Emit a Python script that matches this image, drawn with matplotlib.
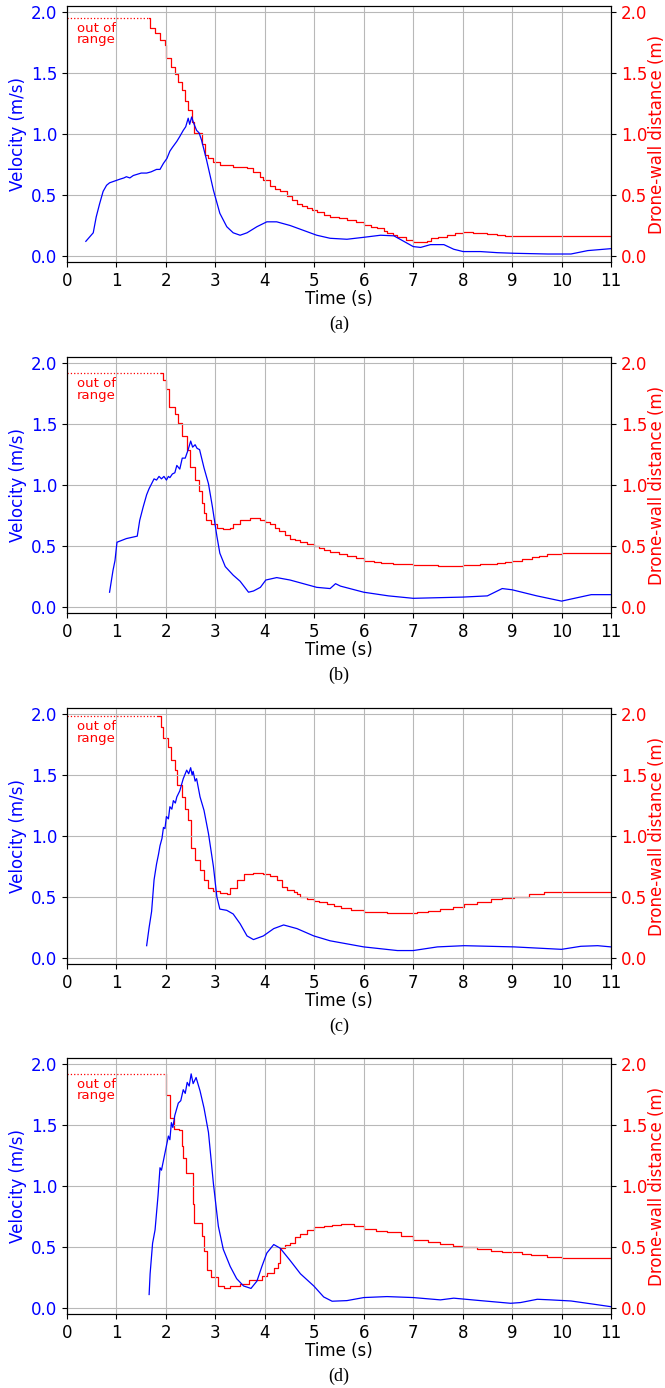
import numpy as np
import matplotlib
matplotlib.use("Agg")
from matplotlib import pyplot as plt

# velocity (m/s) and drone-wall distance (m), panels a-d
va_t = [0.38, 0.53, 0.59, 0.66, 0.73, 0.80, 0.86, 0.93, 1.0, 1.07, 1.15, 1.2, 1.27, 1.34, 1.42, 1.5, 1.61, 1.7, 1.81, 1.88, 1.95,
        2.02, 2.08, 2.13, 2.22, 2.28, 2.35, 2.4, 2.45, 2.48, 2.52, 2.56, 2.62, 2.67, 2.72, 2.82, 2.96, 3.09, 3.23, 3.36,
        3.5, 3.64, 3.84, 4.04, 4.24, 4.51, 4.78, 5.05, 5.32, 5.66, 6.0, 6.34, 6.61, 6.81, 7.0, 7.15, 7.35, 7.62,
        7.82, 8.01, 8.36, 8.7, 9.04, 9.72, 10.19, 10.53, 11.0]
va_v = [0.12, 0.19, 0.32, 0.43, 0.53, 0.58, 0.60, 0.61, 0.62, 0.63, 0.64, 0.65, 0.64, 0.66, 0.67, 0.68, 0.68, 0.69, 0.71, 0.71, 0.76,
        0.80, 0.86, 0.89, 0.94, 0.98, 1.03, 1.06, 1.13, 1.08, 1.14, 1.09, 1.03, 1.01, 0.95, 0.79, 0.54, 0.35, 0.24, 0.19,
        0.17, 0.19, 0.24, 0.28, 0.28, 0.25, 0.21, 0.17, 0.145, 0.137, 0.153, 0.17, 0.165, 0.12, 0.077, 0.07, 0.093, 0.093,
        0.055, 0.036, 0.036, 0.027, 0.022, 0.016, 0.016, 0.044, 0.06]
da_t = [1.65, 1.68, 1.78, 1.88, 1.98, 2.01, 2.11, 2.18, 2.25, 2.32, 2.39, 2.45, 2.52, 2.57, 2.69, 2.72, 2.79, 2.86, 2.96,
        3.09, 3.36, 3.64, 3.77, 3.9, 3.97, 4.11, 4.2, 4.31, 4.45, 4.55, 4.65, 4.75, 4.85, 4.95, 5.05, 5.2, 5.32, 5.5,
        5.66, 5.85, 6.0, 6.15, 6.27, 6.4, 6.47, 6.6, 6.68, 6.85, 7.0, 7.28, 7.35, 7.5, 7.69, 7.85, 8.01, 8.2, 8.36,
        8.5, 8.7, 8.85, 9.04, 11.0]
da_d = [1.95, 1.87, 1.83, 1.77, 1.73, 1.62, 1.55, 1.49, 1.43, 1.36, 1.27, 1.20, 1.10, 1.01, 1.01, 0.92, 0.83, 0.80, 0.77,
        0.75, 0.73, 0.725, 0.69, 0.65, 0.62, 0.57, 0.55, 0.53, 0.49, 0.46, 0.43, 0.41, 0.39, 0.375, 0.36, 0.34, 0.323, 0.31,
        0.296, 0.275, 0.254, 0.24, 0.227, 0.205, 0.186, 0.17, 0.153, 0.13, 0.118, 0.126, 0.145, 0.155, 0.172, 0.185, 0.194,
        0.19, 0.186, 0.18, 0.172, 0.167, 0.164, 0.164]

vb_t = [0.86, 0.93, 0.97, 1.01, 1.20, 1.42, 1.47, 1.54, 1.61, 1.66, 1.71, 1.76, 1.81, 1.86, 1.91, 1.96, 2.01, 2.05, 2.08, 2.13,
        2.18, 2.22, 2.28, 2.33, 2.39, 2.45, 2.5, 2.54, 2.59, 2.63, 2.68, 2.77, 2.86, 2.94, 3.03, 3.09, 3.2, 3.36, 3.5,
        3.67, 3.77, 3.91, 4.02, 4.24, 4.51, 4.78, 5.05, 5.32, 5.43, 5.53, 6.0, 6.5, 7.0, 7.5, 8.0, 8.5, 8.8, 9.0, 9.5,
        10.0, 10.6, 11.0]
vb_v = [0.12, 0.30, 0.38, 0.53, 0.56, 0.58, 0.71, 0.82, 0.92, 0.97, 1.01, 1.05, 1.04, 1.07, 1.05, 1.07, 1.04, 1.07, 1.06, 1.09,
        1.10, 1.16, 1.13, 1.22, 1.22, 1.29, 1.36, 1.31, 1.33, 1.30, 1.29, 1.14, 1.01, 0.82, 0.58, 0.44, 0.33, 0.26, 0.21,
        0.12, 0.13, 0.16, 0.22, 0.24, 0.22, 0.19, 0.16, 0.15, 0.19, 0.17, 0.12, 0.09, 0.07, 0.075, 0.08, 0.09, 0.15, 0.14, 0.09,
        0.047, 0.10, 0.10]
db_t = [1.90, 1.95, 2.0, 2.07, 2.18, 2.25, 2.32, 2.42, 2.49, 2.59, 2.66, 2.72, 2.77, 2.82, 2.91, 3.03, 3.16, 3.3, 3.36,
        3.5, 3.7, 3.91, 4.0, 4.11, 4.2, 4.28, 4.4, 4.51, 4.62, 4.72, 4.85, 4.99, 5.1, 5.19, 5.32, 5.5, 5.66, 5.85,
        6.0, 6.2, 6.34, 6.6, 7.0, 7.5, 8.0, 8.35, 8.7, 8.85, 9.0, 9.2, 9.4, 9.55, 9.7, 9.85, 10.0, 11.0]
db_d = [1.915, 1.86, 1.79, 1.64, 1.58, 1.51, 1.40, 1.29, 1.15, 1.04, 0.95, 0.85, 0.77, 0.71, 0.68, 0.65, 0.64, 0.65, 0.68,
        0.71, 0.73, 0.71, 0.70, 0.68, 0.65, 0.62, 0.59, 0.56, 0.545, 0.53, 0.515, 0.50, 0.485, 0.47, 0.45, 0.435, 0.42, 0.40,
        0.38, 0.37, 0.36, 0.35, 0.34, 0.335, 0.34, 0.35, 0.36, 0.37, 0.38, 0.395, 0.41, 0.42, 0.43, 0.435, 0.44, 0.44]

vc_t = [1.61, 1.66, 1.71, 1.76, 1.81, 1.85, 1.88, 1.92, 1.95, 1.98, 2.01, 2.05, 2.08, 2.12, 2.15, 2.19, 2.22, 2.28, 2.35, 2.42,
        2.46, 2.5, 2.53, 2.55, 2.59, 2.62, 2.69, 2.77, 2.86, 2.96, 3.03, 3.09, 3.23, 3.36, 3.5, 3.64, 3.77, 3.97, 4.18,
        4.38, 4.65, 4.99, 5.32, 6.0, 6.68, 7.0, 7.49, 8.03, 9.04, 10.0, 10.39, 10.73, 11.0]
vc_v = [0.10, 0.25, 0.38, 0.64, 0.77, 0.85, 0.92, 0.98, 1.07, 1.06, 1.16, 1.14, 1.24, 1.22, 1.29, 1.27, 1.32, 1.37, 1.47, 1.54,
        1.51, 1.56, 1.50, 1.53, 1.45, 1.47, 1.32, 1.21, 1.02, 0.75, 0.50, 0.40, 0.39, 0.36, 0.28, 0.18, 0.15, 0.18, 0.24,
        0.27, 0.24, 0.18, 0.14, 0.09, 0.06, 0.06, 0.09, 0.10, 0.09, 0.07, 0.095, 0.10, 0.09]
dc_t = [1.84, 1.91, 1.95, 2.05, 2.11, 2.18, 2.23, 2.32, 2.39, 2.45, 2.5, 2.59, 2.69, 2.77, 2.86, 2.96, 3.09, 3.23, 3.30,
        3.43, 3.57, 3.77, 3.97, 4.1, 4.24, 4.34, 4.45, 4.58, 4.65, 4.72, 4.85, 4.99, 5.1, 5.26, 5.4, 5.53, 5.75, 6.0,
        6.2, 6.47, 7.07, 7.3, 7.55, 7.8, 8.03, 8.3, 8.57, 8.8, 9.04, 9.35, 9.65, 10.0, 11.0]
dc_d = [1.98, 1.89, 1.80, 1.73, 1.62, 1.54, 1.42, 1.32, 1.22, 1.13, 0.90, 0.80, 0.72, 0.64, 0.57, 0.55, 0.53, 0.52, 0.57,
        0.64, 0.69, 0.70, 0.69, 0.67, 0.64, 0.58, 0.56, 0.54, 0.52, 0.50, 0.485, 0.47, 0.455, 0.44, 0.425, 0.41, 0.395, 0.38,
        0.375, 0.37, 0.375, 0.385, 0.40, 0.42, 0.44, 0.46, 0.48, 0.49, 0.50, 0.52, 0.54, 0.54, 0.54]

vd_t = [1.66, 1.68, 1.73, 1.78, 1.84, 1.88, 1.91, 1.98, 2.02, 2.05, 2.08, 2.11, 2.14, 2.18, 2.25, 2.3, 2.35, 2.39, 2.43, 2.47,
        2.51, 2.55, 2.61, 2.69, 2.77, 2.86, 2.96, 3.06, 3.16, 3.30, 3.43, 3.57, 3.72, 3.84, 3.94, 4.04, 4.18, 4.31,
        4.51, 4.72, 4.99, 5.19, 5.36, 5.66, 6.0, 6.47, 7.0, 7.55, 7.82, 8.36, 8.97, 9.17, 9.51, 9.78, 10.19, 10.66, 11.0]
vd_v = [0.11, 0.28, 0.53, 0.64, 0.92, 1.15, 1.13, 1.27, 1.35, 1.41, 1.38, 1.52, 1.48, 1.58, 1.68, 1.70, 1.79, 1.76, 1.85, 1.82,
        1.92, 1.84, 1.89, 1.78, 1.64, 1.44, 1.02, 0.67, 0.48, 0.34, 0.24, 0.18, 0.16, 0.22, 0.34, 0.45, 0.52, 0.49,
        0.39, 0.28, 0.18, 0.09, 0.055, 0.06, 0.085, 0.093, 0.085, 0.066, 0.08, 0.06, 0.038, 0.044, 0.071, 0.066, 0.057, 0.03, 0.01]
dd_t = [2.0, 2.0, 2.09, 2.16, 2.27, 2.32, 2.34, 2.41, 2.49, 2.54, 2.57, 2.69, 2.72, 2.76, 2.84, 2.91, 3.03, 3.06, 3.18,
        3.30, 3.5, 3.67, 3.87, 3.94, 4.04, 4.18, 4.26, 4.31, 4.41, 4.51, 4.61, 4.72, 4.85, 4.99, 5.19, 5.35, 5.53, 5.8,
        6.0, 6.25, 6.47, 6.75, 7.0, 7.3, 7.55, 7.8, 8.01, 8.3, 8.57, 8.8, 9.0, 9.2, 9.38, 9.7, 10.0, 11.0]
dd_d = [1.92, 1.75, 1.56, 1.47, 1.46, 1.33, 1.23, 1.11, 1.11, 0.85, 0.70, 0.70, 0.59, 0.47, 0.31, 0.25, 0.25, 0.18, 0.16,
        0.18, 0.20, 0.225, 0.23, 0.26, 0.285, 0.325, 0.37, 0.49, 0.52, 0.53, 0.58, 0.61, 0.64, 0.66, 0.675, 0.68, 0.685, 0.67,
        0.645, 0.635, 0.62, 0.59, 0.56, 0.54, 0.525, 0.51, 0.50, 0.485, 0.47, 0.46, 0.455, 0.445, 0.435, 0.42, 0.41, 0.41]

panels = [(va_t, va_v, da_t, da_d, "(a)"),
          (vb_t, vb_v, db_t, db_d, "(b)"),
          (vc_t, vc_v, dc_t, dc_d, "(c)"),
          (vd_t, vd_v, dd_t, dd_d, "(d)")]

fig = plt.figure(figsize=(6.65, 13.88), dpi=100)
bottoms = [0.8112, 0.5584, 0.3055, 0.0533]
h = 256 / 1388
fs = 12

for (vt, vv, dt, dd, cap), b in zip(panels, bottoms):
    ax = fig.add_axes([0.1008, b, 0.818, h])
    ax2 = ax.twinx()
    ax.set_zorder(ax2.get_zorder() + 1)
    ax.patch.set_visible(False)

    ax.plot(vt, vv, color="blue", lw=0.9)
    # out-of-range part drawn dotted
    ax2.plot([0, dt[0]], [dd[0], dd[0]], color="red", lw=0.9, ls=":")
    ax2.plot(dt, dd, color="red", lw=0.9, drawstyle="steps-post")
    ax2.text(0.2, dd[0] - 0.03, "out of\nrange", color="red", fontsize=9.5,
             va="top", ha="left", linespacing=0.85)

    for a in (ax, ax2):
        a.set_ylim(-0.05, 2.05)
        a.set_yticks([0.0, 0.5, 1.0, 1.5, 2.0])
    ax.set_xlim(0, 11)
    ax.set_xticks(range(12))
    ax.grid(True, color="#b8b8b8", lw=0.8)
    ax.tick_params(labelsize=fs)
    ax2.tick_params(labelsize=fs)
    ax.tick_params(axis="y", labelcolor="blue")
    ax2.tick_params(axis="y", labelcolor="red")
    ax.set_ylabel("Velocity (m/s)", color="blue", fontsize=fs, labelpad=3)
    ax2.set_ylabel("Drone-wall distance (m)", color="red", fontsize=fs, labelpad=1)
    ax.set_xlabel("Time (s)", fontsize=fs, labelpad=0)
    ax.text(0.5, -0.245, cap, transform=ax.transAxes, ha="center", va="center",
            fontsize=13, family="Liberation Serif")

fig.savefig("out.png", dpi=100)
